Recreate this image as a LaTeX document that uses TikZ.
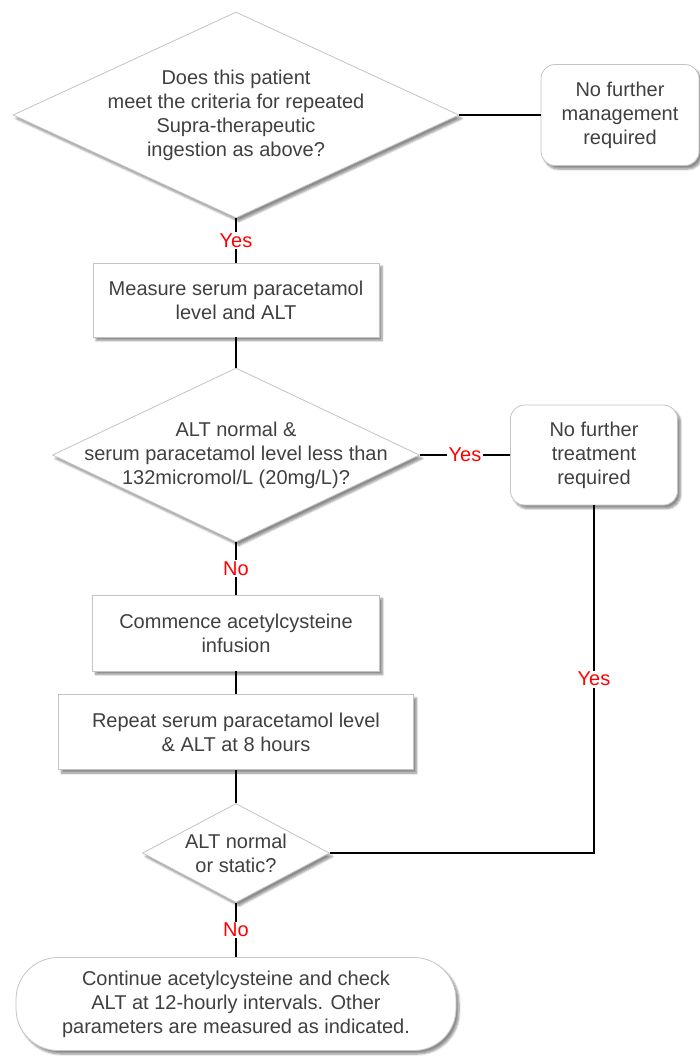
\documentclass[tikz,border=0pt]{standalone}
\usepackage{fontspec}
\setmainfont{Liberation Sans}
\usepackage{tikz}
\usetikzlibrary{shapes.geometric,shadows.blur}
\definecolor{boxline}{HTML}{C4C4C4}
\definecolor{boxtext}{HTML}{404040}
\definecolor{labred}{HTML}{FF0000}

\begin{document}
\begin{tikzpicture}[x=1bp, y=-1bp, line width=2bp,
  base/.style = {draw=boxline, line width=0.8bp, fill=white, text=boxtext, align=center, inner sep=0pt,
    font=\fontsize{20bp}{24bp}\selectfont,
    blur shadow={shadow xshift=3bp, shadow yshift=-3.5bp, shadow blur steps=6, shadow opacity=45}},
  process/.style = {base, rectangle},
  soft/.style = {base, rectangle, rounded corners=14bp},
  decision/.style = {base, diamond},
  words/.style = {text=boxtext, align=center, inner sep=0pt, font=\fontsize{20bp}{24bp}\selectfont},
  answer/.style = {text=labred, fill=white, inner sep=1.5bp, font=\fontsize{20bp}{24bp}\selectfont}]
\useasboundingbox (0,0) rectangle (700,1056);

\node[decision, minimum width=446bp, minimum height=206bp] (d1) at (236,115) {};
\node[words] (d1txt) at (d1) {Does this patient\\meet the criteria for repeated\\Supra-therapeutic\\ingestion as above?};
\node[soft, minimum width=158bp, minimum height=101bp] (nfm) [right of=d1, node distance=384bp] {No further\\management\\required};
\node[process, minimum width=286bp, minimum height=74bp] (measure) [below of=d1, node distance=185bp] {Measure serum paracetamol\\level and ALT};
\node[decision, minimum width=367bp, minimum height=174bp] (d2) [below of=measure, node distance=155bp] {};
\node[words] (d2txt) at (d2) {ALT normal \&\\serum paracetamol level less than\\132micromol/L (20mg/L)?};
\node[soft, minimum width=167bp, minimum height=100bp] (nft) [right of=d2, node distance=358bp] {No further\\treatment\\required};
\node[process, minimum width=287bp, minimum height=76bp] (commence) [below of=d2, node distance=178bp] {Commence acetylcysteine\\infusion};
\node[process, minimum width=355bp, minimum height=75bp] (repeat) [below of=commence, node distance=99bp] {Repeat serum paracetamol level\\\& ALT at 8 hours};
\node[decision, minimum width=187bp, minimum height=99bp] (d3) [below of=repeat, node distance=121bp] {};
\node[words] (d3txt) at (d3) {ALT normal\\or static?};
\node[base, rectangle, rounded corners=42bp, minimum width=440bp, minimum height=93bp] (final) [below of=d3, node distance=151bp] {Continue acetylcysteine and check\\ALT at 12-hourly intervals. Other\\parameters are measured as indicated.};

\draw (d1) -- (nfm);
\draw (d1) -- node[answer] {Yes} (measure);
\draw (measure) -- (d2);
\draw (d2) -- node[answer] {Yes} (nft);
\draw (d2) -- node[answer] {No} (commence);
\draw (commence) -- (repeat);
\draw (repeat) -- (d3);
\draw (d3.east) -| node[answer, pos=0.75] {Yes} (nft.south);
\draw (d3) -- node[answer] {No} (final);

\end{tikzpicture}
\end{document}
